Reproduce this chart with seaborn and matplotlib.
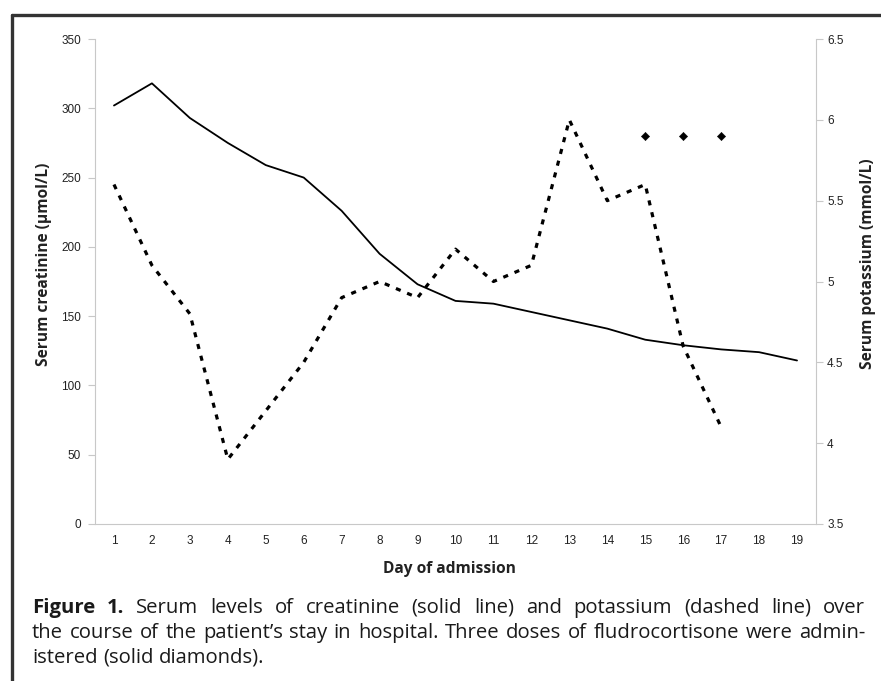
import numpy as np
import matplotlib
matplotlib.use("Agg")
import matplotlib.pyplot as plt
import seaborn as sns
from matplotlib.lines import Line2D

# Données
days = list(range(1, 20))
creatinine = [302, 318, 293, 275, 259, 250, 226, 195, 173, 161, 159, 153, 147, 141, 133, 129, 126, 124, 118]
k_days = list(range(1, 18))
potassium = [5.6, 5.1, 4.8, 3.9, 4.2, 4.5, 4.9, 5.0, 4.9, 5.2, 5.0, 5.1, 6.0, 5.5, 5.6, 4.6, 4.1]
dose_days = [15, 16, 17]
dose_level = [5.9, 5.9, 5.9]

left_ticks = [0, 50, 100, 150, 200, 250, 300, 350]
right_ticks = [3.5, 4, 4.5, 5, 5.5, 6, 6.5]
right_labels = ["3.5", "4", "4.5", "5", "5.5", "6", "6.5"]

sns.set_style("white")
plt.rcParams['font.family'] = ['Liberation Sans', 'DejaVu Sans']

fig = plt.figure(figsize=(8.81, 6.81), dpi=100)
ax = fig.add_axes([95/881, 1-524/681, (816-95)/881, (524-39)/681])
ax2 = ax.twinx()

grey = "#c8c8c8"
txt = "#222222"

sns.lineplot(x=days, y=creatinine, color="black", linewidth=1.3, ax=ax)
sns.lineplot(x=k_days, y=potassium, color="black", linewidth=2.3,
             linestyle=(0, (1.6, 2.2)), ax=ax2)
sns.scatterplot(x=dose_days, y=dose_level, marker="D", s=18, color="black",
                edgecolor="black", ax=ax2)

ax.set_xlim(0.5, 19.5)
ax.set_ylim(0, 350)
ax2.set_ylim(3.5, 6.5)
ax.set_yticks(left_ticks)
ax2.set_yticks(right_ticks)
ax2.set_yticklabels(right_labels)
ax.set_xticks(days)
ax.set_xticks(np.arange(0.5, 20, 1), minor=True)
ax.tick_params(axis="x", which="major", length=0, pad=8, labelsize=8.5, labelcolor=txt)
ax.tick_params(axis="x", which="minor", length=4, width=0.8, color=grey, direction="out")
ax.tick_params(axis="y", length=5, width=0.8, color=grey, labelsize=8.5, labelcolor=txt, pad=5)
ax2.tick_params(axis="y", length=5, width=0.8, color=grey, labelsize=8.5, labelcolor=txt, pad=3)

for a in (ax, ax2):
    for s in a.spines.values():
        s.set_visible(False)
ax.spines["left"].set_visible(True)
ax.spines["bottom"].set_visible(True)
ax2.spines["right"].set_visible(True)
for s in (ax.spines["left"], ax.spines["bottom"], ax2.spines["right"]):
    s.set_color(grey)
    s.set_linewidth(0.8)

ax.set_xlabel("")
ax.set_ylabel("")
ax2.set_ylabel("")

bold = dict(family="Open Sans", weight="bold", size=11.2, color=txt)
fig.text(44/881, 1-264/681, "Serum creatinine (µmol/L)", rotation=90, ha="center", va="center", **bold)
fig.text(868/881, 1-264/681, "Serum potassium (mmol/L)", rotation=90, ha="center", va="center", **bold)
fig.text(449/881, 1-569/681, "Day of admission", ha="center", va="center", **bold)

# Cadre
fig.add_artist(Line2D([12/881, 1], [1-15/681, 1-15/681], color="#333333", linewidth=2.4, transform=fig.transFigure))
fig.add_artist(Line2D([12/881, 12/881], [1-15/681, 0], color="#333333", linewidth=2.4, transform=fig.transFigure))

# Légende justifiée
renderer = fig.canvas.get_renderer()
cap = dict(family="Open Sans", size=14.6, color="#1a1a1a")
x0, x1 = 32, 865

def text_width(s):
    t = fig.text(0, 0, s, **cap)
    w = t.get_window_extent(renderer).width
    t.remove()
    return w

space = text_width("a a") - 2*text_width("a")

def justified(words, y, justify=True):
    items = []
    for w, b in words:
        t = fig.text(0, 1-y/681, w, ha="left", va="baseline",
                     weight="bold" if b else "normal", transform=fig.transFigure, **cap)
        items.append(t)
    widths = [t.get_window_extent(renderer).width for t in items]
    if justify:
        gap = (x1 - x0 - sum(widths)) / (len(items) - 1)
    else:
        gap = space
    x = x0
    for t, w in zip(items, widths):
        t.set_x(x/881)
        x += w + gap

line1 = [("Figure", True), ("1.", True)] + [(w, False) for w in
         "Serum levels of creatinine (solid line) and potassium (dashed line) over".split()]
line2 = [(w, False) for w in
         "the course of the patient’s stay in hospital. Three doses of fludrocortisone were admin-".split()]
line3 = [(w, False) for w in "istered (solid diamonds).".split()]
justified(line1, 613)
justified(line2, 638)
justified(line3, 663, justify=False)

fig.savefig("out.png", dpi=100)
